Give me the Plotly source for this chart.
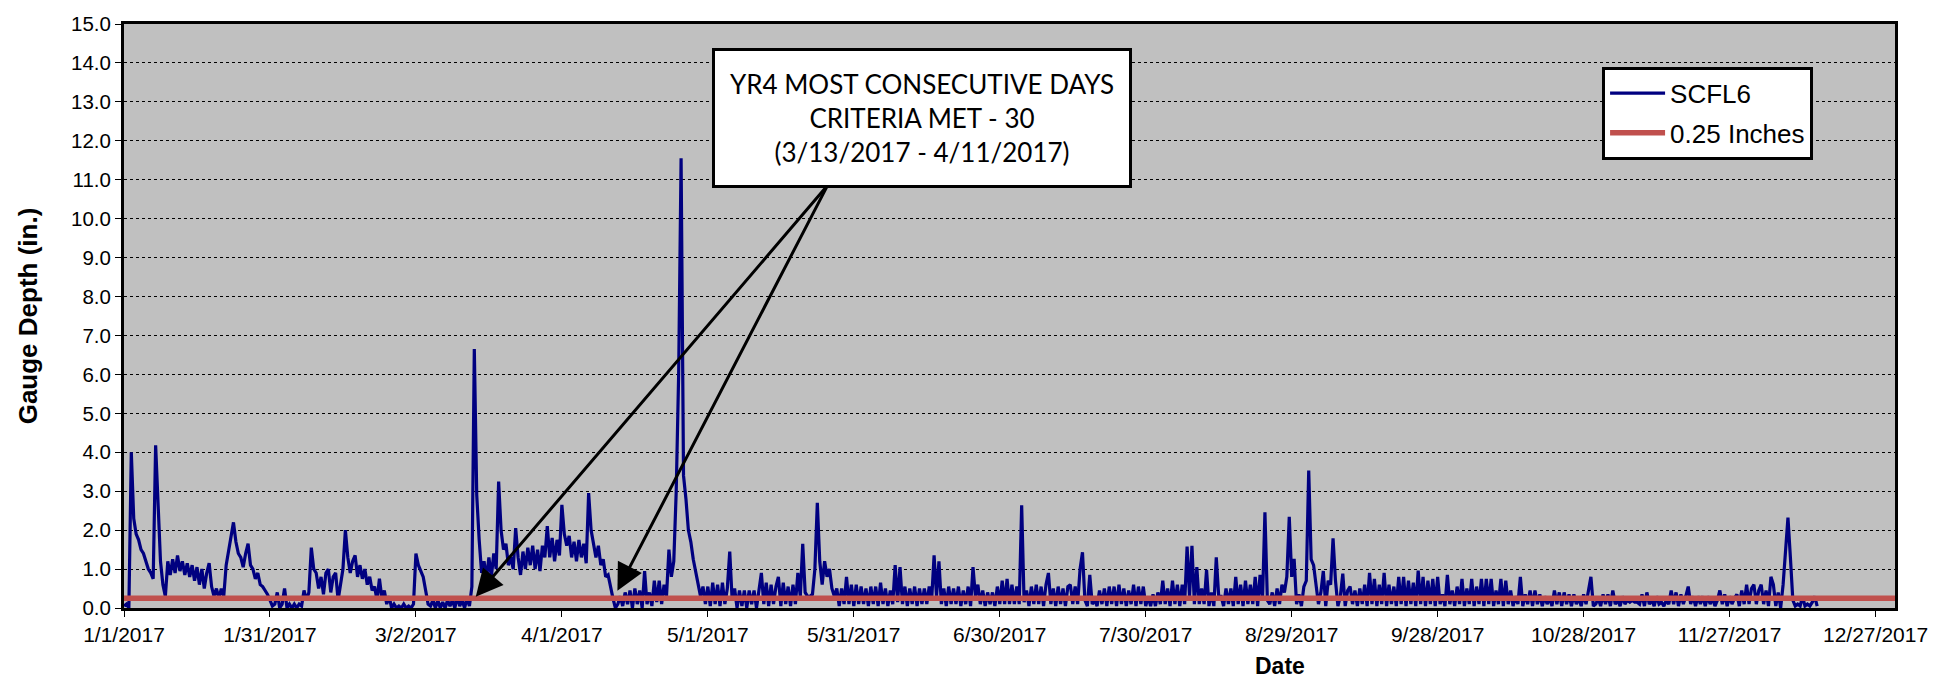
import pandas as pd
import plotly.graph_objects as go

# SCFL6 gauge depth (in.), one reading every 12 hours, grouped by month
jan = [0.05, 0.1, 0.0, 4.0, 2.3, 1.9, 1.75, 1.5, 1.4, 1.2,
       1.0, 0.9, 0.75, 4.18, 2.4, 1.2, 0.6, 0.3, 1.2, 0.85,
       1.25, 0.9, 1.35, 0.95, 1.2, 0.85, 1.15, 0.8, 1.1, 0.7,
       1.05, 0.6, 1.0, 0.5, 0.9, 1.15, 0.55, 0.3, 0.5, 0.25,
       0.5, 0.3, 1.1, 1.5, 1.8, 2.2, 1.7, 1.4, 1.3, 1.05,
       1.4, 1.65, 1.1, 1.0, 0.75, 0.9, 0.6, 0.55, 0.45, 0.35,
       0.2, 0.05]
feb = [0.1, 0.4, 0.0, 0.1, 0.5, 0.0, 0.1, 0.0,
       0.1, 0.0, 0.1, 0.05, 0.45, 0.2, 0.4, 1.55, 1.0, 0.9,
       0.5, 0.8, 0.35, 0.9, 1.0, 0.4, 0.8, 0.9, 0.2, 0.6,
       1.0, 2.0, 1.3, 0.9, 1.2, 1.35, 0.8, 1.1, 0.75, 1.0,
       0.6, 0.8, 0.45, 0.55, 0.2, 0.75, 0.25, 0.45, 0.1, 0.3,
       0.0, 0.1, 0.0, 0.05, 0.0, 0.1, 0.0, 0.05]
mar = [0.0, 0.1,
       1.4, 1.1, 0.95, 0.8, 0.45, 0.1, 0.05, 0.2, 0.0, 0.2,
       0.0, 0.15, 0.0, 0.2, 0.05, 0.2, 0.0, 0.3, 0.05, 0.2,
       0.0, 0.25, 0.05, 0.55, 6.65, 2.9, 1.75, 0.9, 1.2, 0.75,
       1.3, 0.8, 1.4, 1.0, 3.25, 2.0, 1.5, 1.65, 1.1, 1.3,
       1.0, 2.05, 1.3, 0.85, 1.45, 1.0, 1.55, 1.1, 1.6, 1.0,
       1.5, 0.95, 1.6, 1.3, 2.1, 1.3, 1.8, 1.2, 1.75, 1.35]
apr = [2.65, 1.9, 1.6, 1.85, 1.3, 1.7, 1.2, 1.75, 1.3, 1.65,
       1.15, 2.95, 2.0, 1.6, 1.3, 1.6, 1.1, 1.25, 0.8, 0.85,
       0.5, 0.25, 0.0, 0.1, 0.3, 0.05, 0.4, 0.1, 0.45, 0.0,
       0.5, 0.1, 0.45, 0.0, 0.95, 0.1, 0.4, 0.05, 0.7, 0.15,
       0.7, 0.1, 0.6, 0.3, 1.5, 0.8, 1.2, 3.0, 6.0, 11.55,
       3.4, 2.8, 2.0, 1.7, 1.25, 0.9, 0.55, 0.3, 0.55, 0.1]
may = [0.55, 0.05, 0.65, 0.1, 0.6, 0.05, 0.65, 0.1, 0.5, 1.45,
       0.2, 0.5, 0.0, 0.45, 0.05, 0.45, 0.0, 0.45, 0.1, 0.45,
       0.0, 0.45, 0.9, 0.1, 0.65, 0.05, 0.6, 0.1, 0.55, 0.8,
       0.05, 0.65, 0.1, 0.55, 0.05, 0.6, 0.1, 0.9, 0.3, 1.65,
       0.4, 0.3, 0.3, 0.35, 1.0, 2.7, 1.2, 0.6, 1.2, 0.8,
       1.0, 0.5, 0.3, 0.5, 0.05, 0.5, 0.1, 0.8, 0.1, 0.6,
       0.05, 0.6]
jun = [0.1, 0.55, 0.1, 0.5, 0.05, 0.55, 0.1, 0.55,
       0.05, 0.65, 0.1, 0.5, 0.05, 0.45, 0.1, 1.1, 0.15, 1.05,
       0.1, 0.55, 0.05, 0.5, 0.1, 0.55, 0.05, 0.5, 0.1, 0.5,
       0.1, 0.55, 0.2, 1.35, 0.3, 1.2, 0.1, 0.5, 0.05, 0.55,
       0.1, 0.5, 0.1, 0.55, 0.05, 0.45, 0.1, 0.55, 0.05, 1.05,
       0.3, 0.6, 0.1, 0.45, 0.05, 0.4, 0.1, 0.4, 0.05, 0.55,
       0.1, 0.7]
jul = [0.1, 0.75, 0.1, 0.6, 0.1, 0.55, 0.1, 2.64,
       0.15, 0.45, 0.05, 0.55, 0.1, 0.6, 0.1, 0.55, 0.05, 0.6,
       0.9, 0.1, 0.5, 0.05, 0.55, 0.1, 0.5, 0.05, 0.55, 0.6,
       0.1, 0.55, 0.1, 1.0, 1.43, 0.2, 0.05, 0.85, 0.1, 0.2,
       0.05, 0.45, 0.1, 0.5, 0.05, 0.55, 0.1, 0.55, 0.05, 0.6,
       0.1, 0.5, 0.05, 0.45, 0.1, 0.6, 0.05, 0.55, 0.1, 0.55,
       0.05, 0.3, 0.05, 0.35]
aug = [0.05, 0.4, 0.1, 0.7, 0.1, 0.5,
       0.05, 0.7, 0.1, 0.6, 0.05, 0.6, 0.1, 1.58, 0.3, 1.6,
       0.1, 1.05, 0.1, 0.5, 0.1, 0.98, 0.05, 0.4, 0.05, 1.3,
       0.3, 0.3, 0.05, 0.5, 0.1, 0.5, 0.05, 0.8, 0.1, 0.6,
       0.05, 0.7, 0.1, 0.6, 0.1, 0.8, 0.05, 0.85, 0.2, 2.46,
       0.2, 0.1, 0.4, 0.05, 0.5, 0.1, 0.6, 0.4, 0.8, 2.34,
       0.8, 1.26, 0.1, 0.35, 0.05, 0.55]
sep = [0.7, 3.53, 1.25, 1.1,
       0.6, 0.1, 0.4, 0.95, 0.05, 0.7, 0.6, 1.79, 0.7, 0.05,
       0.3, 0.88, 0.05, 0.45, 0.55, 0.1, 0.45, 0.05, 0.5, 0.1,
       0.6, 0.05, 0.9, 0.1, 0.75, 0.05, 0.6, 0.1, 0.9, 0.05,
       0.6, 0.1, 0.55, 0.05, 0.8, 0.1, 0.8, 0.05, 0.7, 0.1,
       0.65, 0.05, 0.96, 0.1, 0.8, 0.05, 0.7, 0.1, 0.75, 0.05,
       0.8, 0.1, 0.35, 0.05, 0.85, 0.1]
oct = [0.45, 0.05, 0.55, 0.1,
       0.75, 0.05, 0.5, 0.1, 0.75, 0.05, 0.55, 0.1, 0.75, 0.05,
       0.75, 0.1, 0.75, 0.05, 0.45, 0.1, 0.75, 0.05, 0.7, 0.1,
       0.45, 0.05, 0.3, 0.1, 0.8, 0.05, 0.35, 0.1, 0.45, 0.05,
       0.45, 0.1, 0.35, 0.05, 0.3, 0.1, 0.25, 0.05, 0.45, 0.1,
       0.4, 0.05, 0.4, 0.1, 0.35, 0.05, 0.35, 0.1, 0.25, 0.05,
       0.35, 0.1, 0.45, 0.8, 0.05, 0.1, 0.25, 0.05]
nov = [0.35, 0.1,
       0.35, 0.05, 0.45, 0.1, 0.2, 0.05, 0.3, 0.1, 0.2, 0.15,
       0.2, 0.15, 0.15, 0.1, 0.35, 0.05, 0.4, 0.1, 0.2, 0.05,
       0.3, 0.1, 0.15, 0.05, 0.2, 0.1, 0.45, 0.1, 0.4, 0.05,
       0.35, 0.1, 0.3, 0.55, 0.1, 0.3, 0.05, 0.3, 0.1, 0.3,
       0.05, 0.3, 0.1, 0.25, 0.05, 0.2, 0.45, 0.1, 0.35, 0.05,
       0.3, 0.1, 0.25, 0.35, 0.05, 0.45, 0.1, 0.6]
dec = [0.1, 0.5,
       0.6, 0.1, 0.45, 0.6, 0.1, 0.45, 0.05, 0.8, 0.6, 0.05,
       0.4, 0.0, 0.6, 1.4, 2.32, 1.3, 0.2, 0.05, 0.1, 0.05,
       0.3, 0.05, 0.1, 0.05, 0.15, 0.3, 0.05]

month_starts = ["2017-01-01", "2017-02-01", "2017-03-01", "2017-04-01",
                "2017-05-01", "2017-06-01", "2017-07-01", "2017-08-01",
                "2017-09-01", "2017-10-01", "2017-11-01", "2017-12-01"]
monthly = [jan, feb, mar, apr, may, jun, jul, aug, sep, oct, nov, dec]

# Criteria threshold line
threshold = 0.25
threshold_dates = ["2017-01-01", "2017-12-31"]

# Axis ticks
x_tick_dates = ["2017-01-01", "2017-01-31", "2017-03-02", "2017-04-01",
                "2017-05-01", "2017-05-31", "2017-06-30", "2017-07-30",
                "2017-08-29", "2017-09-28", "2017-10-28", "2017-11-27",
                "2017-12-27"]
x_tick_text = ["1/1/2017", "1/31/2017", "3/2/2017", "4/1/2017", "5/1/2017",
               "5/31/2017", "6/30/2017", "7/30/2017", "8/29/2017",
               "9/28/2017", "10/28/2017", "11/27/2017", "12/27/2017"]
y_ticks = [float(v) for v in range(16)]

times, depth = [], []
for start, vals in zip(month_starts, monthly):
    times.extend(pd.date_range(start, periods=len(vals), freq="12h"))
    depth.extend(vals)

ARIAL = "Arial, 'Liberation Sans', sans-serif"

fig = go.Figure()
fig.add_trace(go.Scatter(
    x=times, y=depth, mode="lines", name="SCFL6", legendgroup="a",
    line=dict(color="#000080", width=3.2),
))
fig.add_trace(go.Scatter(
    x=threshold_dates, y=[threshold, threshold], mode="lines",
    name="0.25 Inches", legendgroup="b",
    line=dict(color="#C0504D", width=5.5),
))

# Callout box and its two arrows marking the longest run above the threshold
tail_x, tail_y = "2017-05-25 14:00", 10.85
for head_x, head_y in [("2017-03-14 07:00", 0.29), ("2017-04-12 10:00", 0.44)]:
    fig.add_annotation(
        x=head_x, y=head_y, xref="x", yref="y",
        ax=tail_x, ay=tail_y, axref="x", ayref="y",
        text="", showarrow=True, arrowhead=2, arrowsize=1.8,
        arrowwidth=3, arrowcolor="black", standoff=0,
    )
fig.add_annotation(
    x=0.4506, y=0.8395, xref="paper", yref="paper",
    xanchor="center", yanchor="middle",
    text="YR4 MOST CONSECUTIVE DAYS<br>CRITERIA MET - 30<br>(3/13/2017 - 4/11/2017)",
    showarrow=False, align="center",
    font=dict(family="Lato, 'Open Sans', sans-serif", size=26, color="black"),
    bgcolor="white", bordercolor="black", borderwidth=3, borderpad=2,
    width=410, height=130,
)

# Horizontal axis title
fig.add_annotation(
    x=0.653, y=-0.0997, xref="paper", yref="paper",
    xanchor="center", yanchor="middle", showarrow=False,
    text="<b>Date</b>", font=dict(family=ARIAL, size=23, color="black"),
)

fig.update_layout(
    width=1945, height=684, autosize=False,
    margin=dict(l=124, r=50, t=16, b=76),
    paper_bgcolor="white", plot_bgcolor="#C0C0C0",
    font=dict(family=ARIAL, size=20, color="black"),
    showlegend=True,
    legend=dict(
        x=0.8346, y=0.927, xanchor="left", yanchor="top",
        bgcolor="white", bordercolor="black", borderwidth=3,
        font=dict(family=ARIAL, size=26, color="black"),
        itemwidth=55, tracegroupgap=3, traceorder="grouped",
        entrywidth=175, entrywidthmode="pixels",
    ),
    xaxis=dict(
        type="date", range=["2017-01-01", "2017-12-31"],
        tickmode="array", tickvals=x_tick_dates, ticktext=x_tick_text,
        ticks="outside", ticklen=6, tickwidth=1, tickcolor="black",
        showgrid=False, zeroline=False,
        showline=True, linecolor="black", linewidth=3, mirror=True,
        tickfont=dict(family=ARIAL, size=21),
    ),
    yaxis=dict(
        range=[0, 15], tickmode="array", tickvals=y_ticks, tickformat=".1f",
        ticks="outside", ticklen=6, tickwidth=1, tickcolor="black",
        showgrid=True, gridcolor="black", griddash="dot", gridwidth=1,
        zeroline=False,
        showline=True, linecolor="black", linewidth=3, mirror=True,
        tickfont=dict(family=ARIAL, size=20.5),
        title=dict(text="<b>Gauge Depth (in.)</b>", font=dict(family=ARIAL, size=26), standoff=26),
    ),
)

fig.write_html("out.html")
